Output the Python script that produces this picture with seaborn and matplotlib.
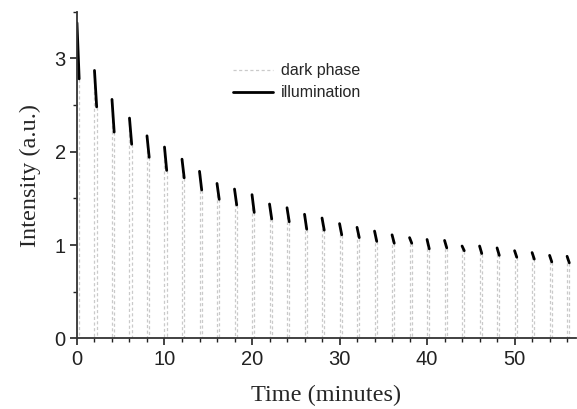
import numpy as np
import pandas as pd
import matplotlib
matplotlib.use("Agg")
import matplotlib.pyplot as plt
from matplotlib.lines import Line2D
from matplotlib.ticker import MultipleLocator
import seaborn as sns

# illumination cycles: light switched on every 2 minutes for a short pulse
t_on = [0, 2, 4, 6, 8, 10, 12, 14, 16, 18, 20, 22, 24, 26, 28,
        30, 32, 34, 36, 38, 40, 42, 44, 46, 48, 50, 52, 54, 56]
pulse_len = 0.25  # minutes of illumination per cycle
seg_top = [3.38, 2.87, 2.56, 2.36, 2.17, 2.05, 1.92, 1.79, 1.66, 1.60,
           1.54, 1.44, 1.40, 1.33, 1.29, 1.23, 1.19, 1.15, 1.11, 1.08,
           1.06, 1.05, 0.99, 0.99, 0.97, 0.94, 0.92, 0.89, 0.88]
seg_bottom = [2.78, 2.48, 2.21, 2.08, 1.94, 1.80, 1.72, 1.59, 1.49, 1.43,
              1.35, 1.28, 1.25, 1.17, 1.16, 1.11, 1.08, 1.04, 1.02, 1.02,
              0.96, 0.97, 0.94, 0.91, 0.89, 0.87, 0.85, 0.82, 0.81]

legend_labels = ["dark phase", "illumination"]

# build tidy frames
illum_rows = []
dark_rows = []
n = len(t_on)
for k in range(n):
    t_off = t_on[k] + pulse_len
    illum_rows.append((k, t_on[k], seg_top[k]))
    illum_rows.append((k, t_off, seg_bottom[k]))
    # dark phase: signal drops to zero, then rises at next pulse
    dark_rows.append((k, t_off, seg_bottom[k]))
    dark_rows.append((k, t_off, 0.0))
    if k + 1 < n:
        dark_rows.append((k, t_on[k + 1], 0.0))
        dark_rows.append((k, t_on[k + 1], seg_top[k + 1]))
df_illum = pd.DataFrame(illum_rows, columns=["cycle", "time", "intensity"])
df_dark = pd.DataFrame(dark_rows, columns=["cycle", "time", "intensity"])

sns.set_style("ticks")
plt.rcParams["font.family"] = ["Liberation Sans", "DejaVu Sans"]

fig = plt.figure(figsize=(5.77, 4.09), dpi=100)
ax = fig.add_axes([0.1334, 0.1724, 0.8646, 0.7992])

dark_color = "#cacaca"
sns.lineplot(data=df_dark, x="time", y="intensity", units="cycle",
             estimator=None, sort=False, color=dark_color, linewidth=0.9,
             linestyle=(0, (2.5, 2)), ax=ax)
sns.lineplot(data=df_illum, x="time", y="intensity", units="cycle",
             estimator=None, sort=False, color="black", linewidth=2.0, ax=ax)

ax.set_xlim(0, 57)
ax.set_ylim(0, 3.5)
ax.xaxis.set_major_locator(MultipleLocator(10))
ax.xaxis.set_minor_locator(MultipleLocator(2))
ax.yaxis.set_major_locator(MultipleLocator(1))
ax.yaxis.set_minor_locator(MultipleLocator(0.5))
ax.tick_params(which="major", direction="out", length=5, width=1.2,
               labelsize=14.5, colors="#222222", pad=3)
ax.tick_params(which="minor", direction="out", length=3, width=1.0,
               colors="#222222")

sns.despine(ax=ax)
for side in ["left", "bottom"]:
    ax.spines[side].set_linewidth(1.3)
    ax.spines[side].set_color("#333333")

ax.set_xlabel("Time (minutes)", family=["Liberation Serif", "DejaVu Serif"],
              fontsize=17.5, labelpad=12)
ax.set_ylabel("Intensity (a.u.)", family=["Liberation Serif", "DejaVu Serif"],
              fontsize=17.5, labelpad=10)

handles = [Line2D([], [], color=dark_color, linewidth=0.9, linestyle=(0, (2.5, 2))),
           Line2D([], [], color="black", linewidth=2.0)]
ax.legend(handles, legend_labels, loc="upper left", frameon=False,
          bbox_to_anchor=(0.30, 0.862), fontsize=11.5, handlelength=2.5,
          handletextpad=0.5, labelspacing=0.45, borderaxespad=0)

fig.savefig("out.png", dpi=100)
